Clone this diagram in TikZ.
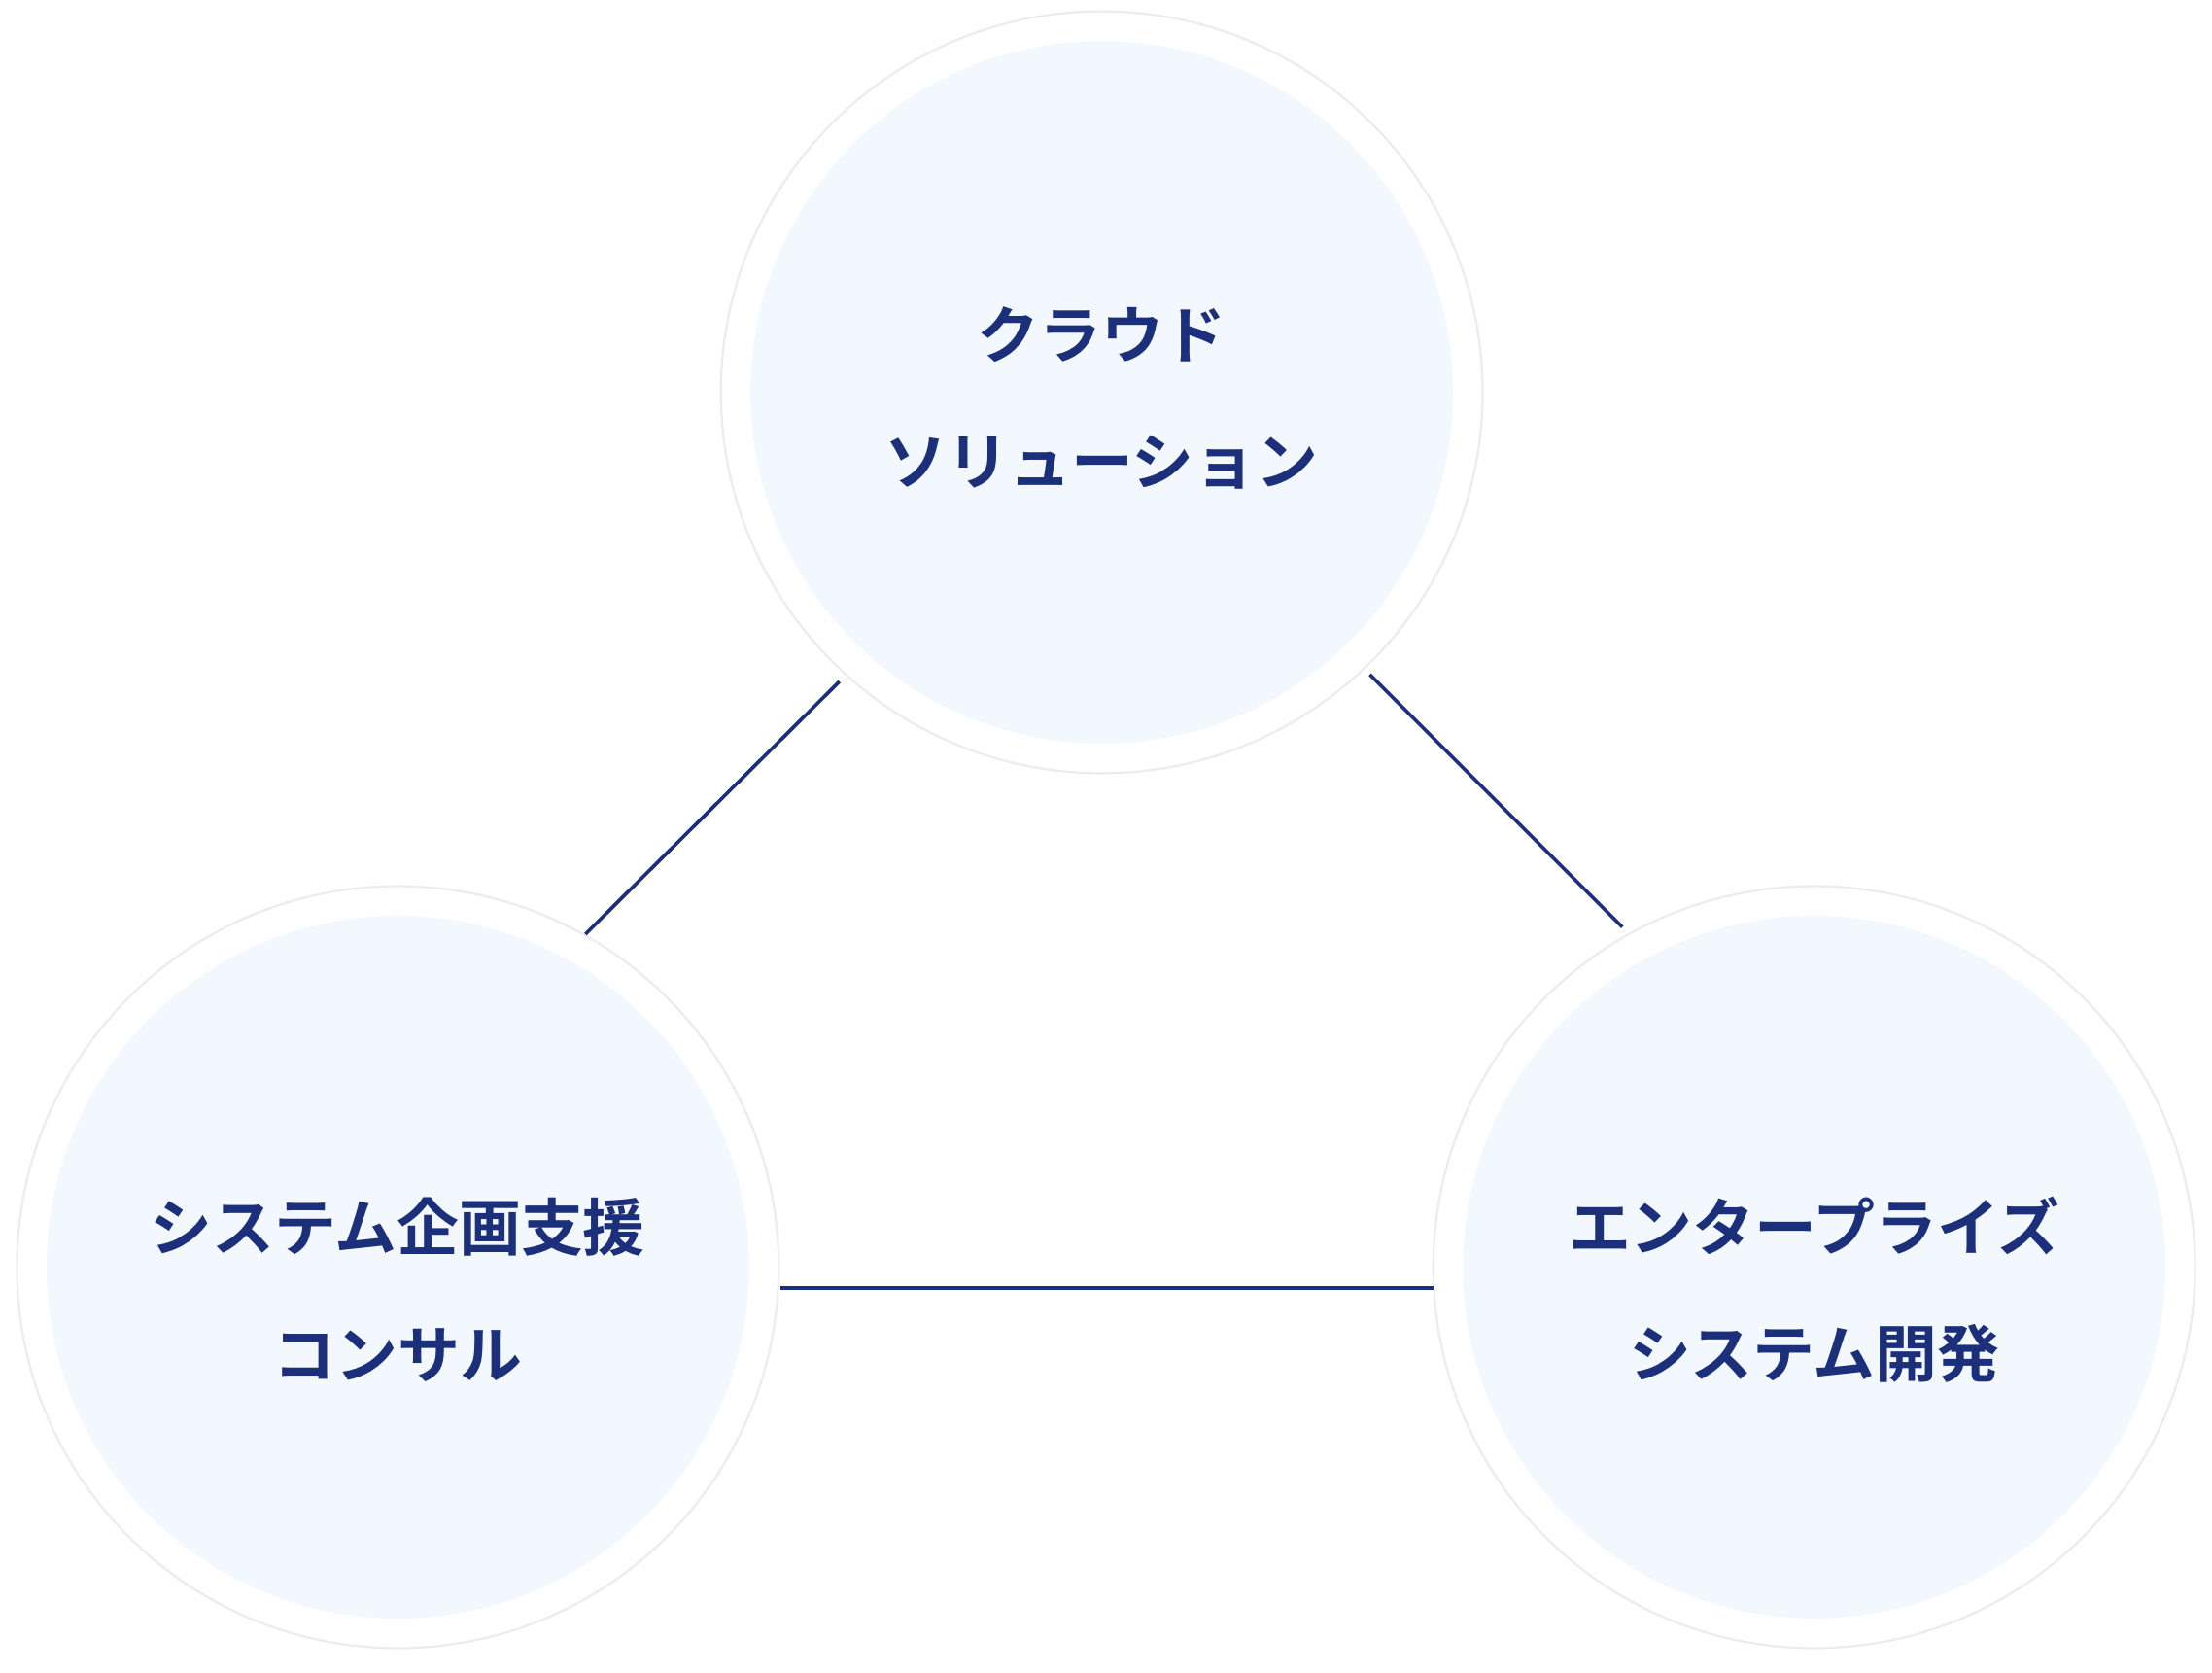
\documentclass[tikz,border=0pt]{standalone}
\usepackage{fontspec}
\newfontfamily\cjk{Noto Sans CJK JP Bold}
\definecolor{navy}{HTML}{1B2F7A}
\definecolor{inner}{HTML}{F3F8FE}
\definecolor{rim}{HTML}{ECECEC}
\begin{document}
\begin{tikzpicture}[x=1pt,y=-1pt,
  outerc/.style={circle,minimum size=540pt,fill=white,draw=rim,line width=1.5pt,inner sep=0},
  innerc/.style={circle,minimum size=498pt,fill=inner,inner sep=0},
  lbl/.style={text=navy,font=\cjk\fontsize{44}{90}\selectfont,align=center},
  conn/.style={draw=navy,line width=2.5pt}]
\useasboundingbox (0,0) rectangle (1568,1185);
\node[outerc] (to) at (781,278) {};
\node[innerc] (ti) at (781,278) {};
\node[outerc] (lo) at (282,898) {};
\node[innerc] (li) at (282,898) {};
\node[outerc] (ro) at (1286,898) {};
\node[innerc] (ri) at (1286,898) {};
\node[lbl] (tt) at (781,282) {クラウド\\ソリューション};
\node[lbl] (lt) at (282,914) {システム企画支援\\コンサル};
\node[lbl] (rt) at (1286,914) {エンタープライズ\\システム開発};
\coordinate (a1) at (595,483); \coordinate (a2) at (415,662);
\coordinate (b1) at (971,478); \coordinate (b2) at (1150,657);
\coordinate (c1) at (553,913); \coordinate (c2) at (1016,913);
\draw[conn] (a1) -- (a2);
\draw[conn] (b1) -- (b2);
\draw[conn] (c1) -- (c2);
\end{tikzpicture}
\end{document}
